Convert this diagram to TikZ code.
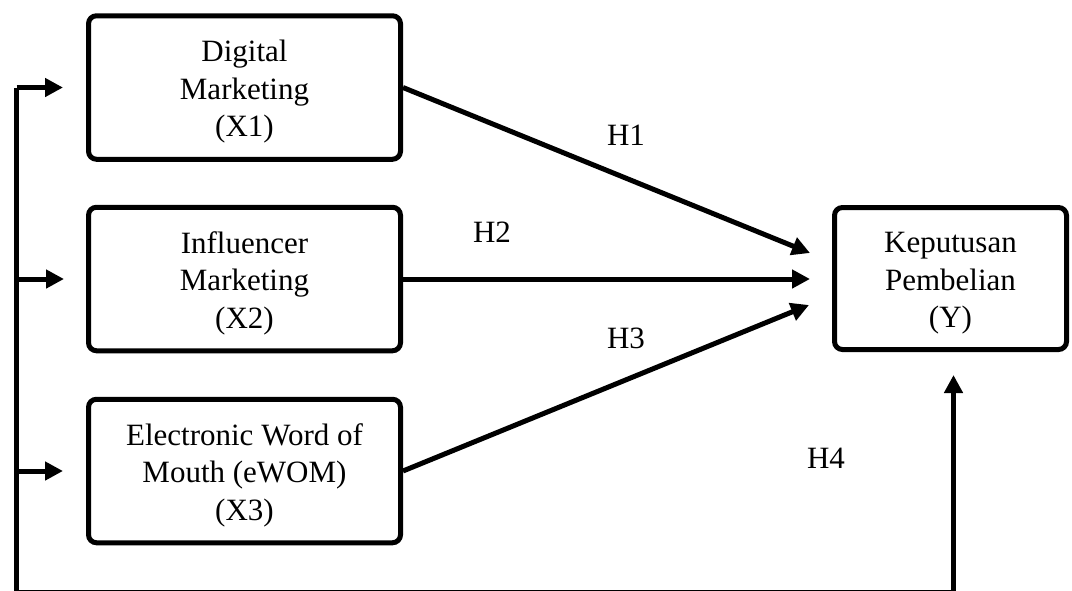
\documentclass[tikz,border=0pt]{standalone}
\usepackage{fontspec}
\setmainfont{Liberation Serif}
\usetikzlibrary{arrows.meta}
\newcommand{\boxtext}[1]{\raisebox{-4pt}[\height][\depth]{\setlength{\tabcolsep}{0pt}\begin{tabular}{c}#1\end{tabular}}}
\begin{document}
\begin{tikzpicture}[x=1pt,y=-1pt,
  every node/.style={font=\fontsize{31}{37.5}\selectfont},
  varbox/.style={draw, line width=5pt, rounded corners=8pt, align=center, inner sep=0pt},
  xbox/.style={varbox, minimum width=312pt, minimum height=143.5pt},
  conn/.style={line width=5pt, line join=round, -{Triangle[length=18pt,width=18pt]}},
  hlabel/.style={inner sep=0pt}]
\useasboundingbox (0,0) rectangle (1072,590);
\node[xbox] (x1) at (244.5,87.5) {\boxtext{Digital\\Marketing\\(X1)}};
\node[xbox] (x2) at (244.5,279) {\boxtext{Influencer\\Marketing\\(X2)}};
\node[xbox] (x3) at (244.5,471) {\boxtext{Electronic Word of\\Mouth (eWOM)\\(X3)}};
\node[varbox, minimum width=232pt, minimum height=142pt] (y) at (950.5,278.5) {\boxtext{Keputusan\\Pembelian\\(Y)}};
\coordinate (bustop) at (16.5,87.5);
\coordinate (busbot) at (16.5,592);
\draw[conn] (x1.east) -- ([xshift=-22pt,yshift=25.5pt]y.west);
\draw[conn] (x2.east) -- ([xshift=-22pt,yshift=-0.5pt]y.west);
\draw[conn] (x3.east) -- ([xshift=-23pt,yshift=-26.5pt]y.west);
\draw[conn] (bustop) -- ([xshift=-23pt]x1.west);
\draw[conn] (bustop |- x2.west) -- ([xshift=-22pt]x2.west);
\draw[conn] (bustop |- x3.west) -- ([xshift=-23pt]x3.west);
\draw[conn] (bustop) -- (busbot) -| ([xshift=3pt,yshift=-23pt]y.south);
\node[hlabel] (h1) at (626,135) {H1};
\node[hlabel] (h2) at (492,232) {H2};
\node[hlabel] (h3) at (626,338) {H3};
\node[hlabel] (h4) at (826,458) {H4};
\end{tikzpicture}
\end{document}
